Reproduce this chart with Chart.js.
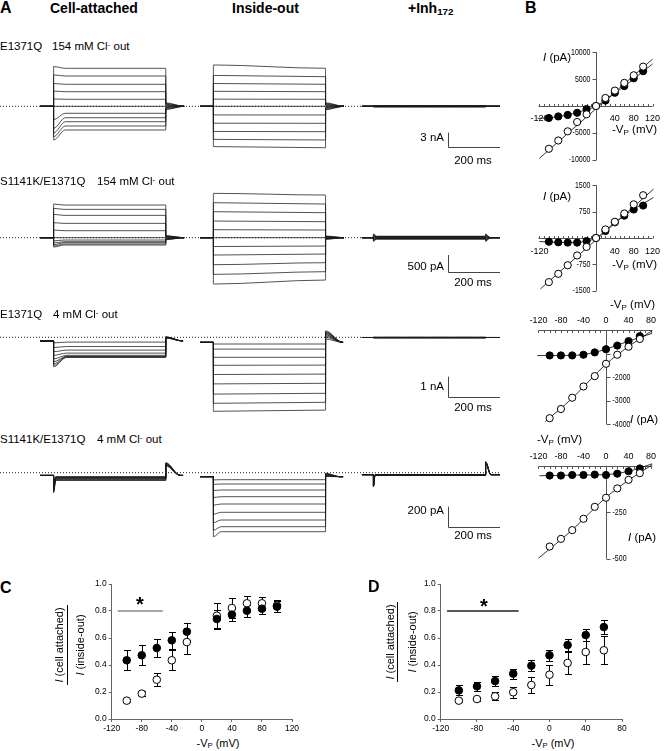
<!DOCTYPE html>
<html>
<head>
<meta charset="utf-8">
<script src="https://cdn.jsdelivr.net/npm/chart.js@4"></script>
<style>
  body { margin: 0; width: 664px; height: 751px; position: relative; background: #fff; overflow: hidden;
         font-family: 'Liberation Sans', Arial, sans-serif; color: #000; }
  canvas { position: absolute; }
  .lbl { position: absolute; white-space: nowrap; line-height: 1; font-size: 11.5px; }
  sub { font-size: 70%; vertical-align: -0.25em; line-height: 0; }
  sup { font-size: 70%; vertical-align: 0.45em; line-height: 0; }
  .bar { position: absolute; background: #000; width: 1px; }
</style>
</head>
<body>
<canvas id="row1" width="500" height="110" style="left:0;top:55px"></canvas>
<canvas id="row2" width="500" height="105" style="left:0;top:185px"></canvas>
<canvas id="row3" width="500" height="100" style="left:0;top:320px"></canvas>
<canvas id="row4" width="500" height="90" style="left:0;top:455px"></canvas>
<canvas id="b1" width="132" height="132" style="left:530px;top:40px"></canvas>
<canvas id="b2" width="132" height="132" style="left:530px;top:172px"></canvas>
<canvas id="b3" width="137" height="140" style="left:525px;top:300px"></canvas>
<canvas id="b4" width="137" height="135" style="left:525px;top:440px"></canvas>
<canvas id="chartC" width="262" height="160" style="left:40px;top:575px"></canvas>
<canvas id="chartD" width="262" height="160" style="left:370px;top:575px"></canvas>
<script>
// ---- A: voltage steps (-Vp, mV) ----
const v154 = [-100, -80, -60, -40, -20, 0, 20, 40, 60, 80, 100];
const v4 = [-100, -80, -60, -40, -20, 0, 20, 40, 60];

// row 1: E1371Q 154 mM Cl- out (pA)
const r1CaPeak = [-6870, -6200, -5450, -4500, -2700, 0, 1500, 3100, 4650, 6400, 8100];
const r1CaEnd = [-4830, -4020, -3140, -2330, -1430, 0, 1430, 2980, 4490, 6180, 7750];
const r1CaTail = [-650, -520, -400, -260, -130, 0, 140, 280, 420, 560, 700];
const r1IoPeak = [-8220, -6750, -5130, -3450, -1760, 0, 1460, 3060, 4650, 6300, 8430];
const r1IoEnd = [-8450, -6870, -5180, -3470, -1770, 0, 1430, 2980, 4490, 6040, 7750];
const r1IoTail = [-700, -560, -420, -280, -140, 0, 140, 280, 420, 560, 700];
const r1InhEnd = [-130, -100, -75, -50, -25, 0, 25, 50, 75, 100, 130];

// row 2: S1141K/E1371Q 154 mM Cl- out
const r2CaPeak = [-280, -250, -210, -160, -95, 0, 230, 450, 700, 880, 1010];
const r2CaEnd = [-220, -190, -150, -120, -70, 0, 210, 430, 670, 850, 980];
const r2CaTail = [-60, -50, -40, -30, -15, 0, 15, 30, 40, 50, 60];
const r2IoPeak = [-1390, -1100, -810, -520, -265, 0, 240, 500, 780, 1050, 1330];
const r2IoEnd = [-1270, -1020, -750, -490, -250, 0, 230, 480, 750, 1010, 1280];
const r2IoTail = [-50, -40, -30, -20, -10, 0, 10, 20, 30, 40, 50];
const r2InhPeak = [-110, -90, -70, -50, -25, 0, 25, 50, 70, 90, 110];
const r2InhEnd = [-45, -36, -27, -18, -9, 0, 9, 18, 27, 36, 45];

// row 3: E1371Q 4 mM Cl- out
const r3CaPeak = [-1470, -1400, -1320, -1220, -1080, -900, -720, -510, -280];
const r3CaEnd = [-1000, -990, -975, -950, -900, -790, -640, -460, -240];
const r3CaTail = [-40, -30, -20, -10, 0, 10, 20, 20, 10];
const r3IoPeak = [-3700, -3300, -2840, -2330, -1860, -1400, -1000, -590, -335];
const r3IoEnd = [-3640, -3250, -2800, -2300, -1840, -1390, -1000, -590, -335];
const r3IoTail = [320, 280, 240, 200, 160, 120, 60, 0, -90];
const r3InhEnd = [-30, -26, -22, -18, -14, -10, -6, -2, 2];

// row 4: S1141K/E1371Q 4 mM Cl- out
const r4CaPeak = [-200, -190, -180, -170, -160, -150, -140, -130, -120];
const r4CaEnd = [-78, -72, -66, -61, -56, -52, -48, -44, -38];
const r4CaTail = [100, 96, 92, 88, 84, 80, 76, 72, 68];
const r4IoPeak = [-640, -575, -500, -415, -325, -248, -178, -116, -72];
const r4IoEnd = [-590, -540, -473, -396, -313, -240, -173, -113, -70];
const r4IoTail = [-5, -10, -14, -18, -22, -26, -30, -34, -38];
const r4InhPeak = [-140, -138, -136, -134, -132, -130, -128, -126, -124];
const r4InhEnd = [-27, -26, -25, -24, -23, -22, -21, -20, -19];
const r4InhTail = [110, 108, 106, 104, 102, 100, 98, 96, 94];

// sweep timing (ms): cell-attached, inside-out, +Inh172
const tStart = [153, 765, 1384];
const tOn = [205, 816, 1428];
const tStop = [700, 1312, 1912];
const tPulse = 429;
const tTotal = 1912;

// ---- B: I-V (pA) ----
const b1Filled = [-2230, -1940, -1660, -1260, -570, 0, 1000, 2460, 3700, 5140, 6460];
const b1Open = [-7940, -6400, -4700, -2970, -1540, 0, 1490, 2860, 4290, 5700, 7310];
const b1FitFilled = [[-124, -2300], [-90, -2100], [-60, -1650], [-30, -950], [0, 0], [50, 3000], [120, 7800]];
const b1FitOpen = [[-120, -9700], [120, 8700]];

const b2Filled = [-105, -122, -131, -131, -87, 0, 200, 445, 637, 811, 924];
const b2Open = [-1256, -1020, -776, -497, -253, 0, 244, 462, 698, 959, 1218];
const b2FitFilled = [[-120, -100], [-80, -125], [-40, -125], [-20, -85], [0, 0], [40, 440], [80, 820], [122, 1150]];
const b2FitOpen = [[-118, -1450], [122, 1390]];

const b3Filled = [-1080, -1080, -1080, -1050, -950, -815, -660, -470, -260];
const b3Open = [-3750, -3360, -2880, -2400, -1960, -1435, -1050, -710, -380];
const b3FitFilled = [[-122, -1085], [-60, -1080], [-30, -1000], [0, -815], [40, -470], [82, -140]];
const b3FitOpen = [[-108, -3900], [-60, -2900], [0, -1450], [40, -700], [82, -20]];

const b4Filled = [-53, -53, -50, -50, -48, -50, -43, -30, -15];
const b4Open = [-434, -393, -346, -285, -221, -172, -122, -76, -40];
const b4FitFilled = [[-118, -54], [-40, -50], [0, -48], [40, -30], [82, 10]];
const b4FitOpen = [[-120, -497], [-60, -345], [0, -170], [40, -78], [82, 5]];

// ---- C / D: I(cell attached) / I(inside-out) ----
const cV = [-100, -80, -60, -40, -20, 20, 40, 60, 80, 100];
const cFilled = [0.435, 0.472, 0.526, 0.583, 0.647, 0.741, 0.773, 0.802, 0.817, 0.832];
const cFilledErr = [0.074, 0.074, 0.07, 0.065, 0.064, 0.065, 0.045, 0.045, 0.04, 0.04];
const cOpen = [0.136, 0.188, 0.291, 0.435, 0.57, 0.765, 0.822, 0.857, 0.857, 0.84];
const cOpenErr = [0.012, 0.02, 0.05, 0.075, 0.09, 0.095, 0.075, 0.055, 0.048, 0.045];
const cSignif = [-112, -52];

const dV = [-100, -80, -60, -40, -20, 0, 20, 40, 60];
const dFilled = [0.212, 0.242, 0.281, 0.336, 0.395, 0.472, 0.548, 0.622, 0.681];
const dFilledErr = [0.037, 0.035, 0.035, 0.037, 0.04, 0.04, 0.045, 0.045, 0.05];
const dOpen = [0.136, 0.148, 0.168, 0.198, 0.252, 0.328, 0.415, 0.496, 0.509];
const dOpenErr = [0.012, 0.018, 0.03, 0.042, 0.06, 0.075, 0.085, 0.085, 0.105];
const dSignif = [-113, -34];

const FONT = "'Liberation Sans', Arial, sans-serif";
Chart.defaults.font.family = FONT;
Chart.defaults.color = '#000';

const pts = (xs, ys) => xs.map((x, i) => ({ x, y: ys[i] }));
const fit = arr => arr.map(p => ({ x: p[0], y: p[1] }));

// ---------- panel A ----------
const scaleBar = {
  id: 'scaleBar',
  afterDatasetsDraw(chart, args, o) {
    const { ctx } = chart, xs = chart.scales.x, ys = chart.scales.y;
    const x0 = Math.round(xs.getPixelForValue(o.t)) + 0.5;
    const y0 = Math.round(ys.getPixelForValue(o.i)) + 0.5;
    ctx.save();
    ctx.strokeStyle = '#444';
    ctx.lineWidth = 1;
    ctx.beginPath();
    ctx.moveTo(x0, ys.getPixelForValue(o.i + o.amp));
    ctx.lineTo(x0, y0);
    ctx.lineTo(xs.getPixelForValue(o.t + o.ms), y0);
    ctx.stroke();
    ctx.restore();
  }
};

function sweep(k, r, j) {
  const on = tOn[k], off = on + tPulse;
  const end = r.end[j];
  const peak = r.peak ? r.peak[j] : end;
  const tail = r.tail ? r.tail[j] : r.hold;
  return [
    { x: tStart[k], y: r.hold }, { x: on, y: r.hold }, { x: on, y: peak },
    { x: on + r.tau, y: end }, { x: off, y: end },
    { x: off, y: tail }, { x: off + r.tailMs, y: r.hold }, { x: tStop[k], y: r.hold }
  ];
}

function traceRow(id, recs, yMin, yMax, bar) {
  const datasets = [{
    data: [{ x: 0, y: 0 }, { x: tTotal, y: 0 }], showLine: true, pointRadius: 0,
    borderColor: '#222', borderWidth: 1, borderDash: [1, 2]
  }];
  recs.forEach((r, k) => {
    r.end.forEach((_, j) => {
      datasets.push({
        data: sweep(k, r, j), showLine: true, pointRadius: 0,
        borderColor: '#1a1a1a', borderWidth: 0.75, cubicInterpolationMode: 'monotone'
      });
    });
  });
  new Chart(document.getElementById(id), {
    type: 'scatter',
    data: { datasets },
    options: {
      responsive: false, animation: false, events: [],
      layout: { padding: 0 },
      scales: {
        x: { type: 'linear', display: false, min: 0, max: tTotal },
        y: { display: false, min: yMin, max: yMax }
      },
      plugins: { legend: { display: false }, tooltip: { enabled: false }, scaleBar: bar }
    },
    plugins: [scaleBar]
  });
}

traceRow('row1', [
  { hold: 0, peak: r1CaPeak, end: r1CaEnd, tail: r1CaTail, tau: 45, tailMs: 70 },
  { hold: 0, peak: r1IoPeak, end: r1IoEnd, tail: r1IoTail, tau: tPulse, tailMs: 70 },
  { hold: 0, end: r1InhEnd, tau: 5, tailMs: 20 }
], -11975, 10465, { t: 1712, i: -8364, amp: 3000, ms: 200 });

traceRow('row2', [
  { hold: 0, peak: r2CaPeak, end: r2CaEnd, tail: r2CaTail, tau: 40, tailMs: 70 },
  { hold: 0, peak: r2IoPeak, end: r2IoEnd, tail: r2IoTail, tau: tPulse, tailMs: 70 },
  { hold: 0, peak: r2InhPeak, end: r2InhEnd, tail: r2InhPeak, tau: 12, tailMs: 18 }
], -1569, 1581, { t: 1712, i: -1020, amp: 500, ms: 200 });

traceRow('row3', [
  { hold: -185, peak: r3CaPeak, end: r3CaEnd, tail: r3CaTail, tau: 50, tailMs: 65 },
  { hold: -250, peak: r3IoPeak, end: r3IoEnd, tail: r3IoTail, tau: tPulse, tailMs: 65 },
  { hold: -10, end: r3InhEnd, tau: 5, tailMs: 20 }
], -4135, 865, { t: 1712, i: -2970, amp: 1000, ms: 200 });

traceRow('row4', [
  { hold: -27, peak: r4CaPeak, end: r4CaEnd, tail: r4CaTail, tau: 8, tailMs: 55 },
  { hold: -40, peak: r4IoPeak, end: r4IoEnd, tail: r4IoTail, tau: 30, tailMs: 55 },
  { hold: -20, peak: r4InhPeak, end: r4InhEnd, tail: r4InhTail, tau: 6, tailMs: 20 }
], -723, 177, { t: 1712, i: -540, amp: 200, ms: 200 });

// ---------- panel B ----------
// axes cross at (0, 0); the y tick labels are narrow, so they are squeezed horizontally
const crossAxes = {
  id: 'crossAxes',
  beforeDatasetsDraw(chart, args, o) {
    const { ctx } = chart, xs = chart.scales.x, ys = chart.scales.y;
    const X = v => xs.getPixelForValue(v), Y = v => ys.getPixelForValue(v);
    const ya = Math.round(Y(0)) + 0.5, xa = Math.round(X(0)) + 0.5;
    ctx.save();
    ctx.strokeStyle = '#555';
    ctx.lineWidth = 1;
    ctx.beginPath();
    ctx.moveTo(X(o.xFrom), ya); ctx.lineTo(X(o.xTo), ya);
    ctx.moveTo(xa, Y(o.yFrom)); ctx.lineTo(xa, Y(o.yTo));
    for (let v = -120; v <= o.xTo; v += 10) {
      if (v === 0) continue;
      const px = Math.round(X(v)) + 0.5;
      ctx.moveTo(px, ya); ctx.lineTo(px, ya + o.xTick);
    }
    o.yTicks.forEach(v => {
      const py = Math.round(Y(v)) + 0.5;
      ctx.moveTo(xa, py); ctx.lineTo(xa + o.yTick, py);
    });
    ctx.stroke();
    ctx.fillStyle = '#000';
    ctx.textBaseline = 'middle';
    ctx.font = '9px ' + FONT;
    ctx.textAlign = 'center';
    o.xLabels.forEach(v => ctx.fillText(String(v), X(v), ya + o.xLabelDy));
    ctx.font = '9px ' + FONT;
    ctx.textAlign = o.yAlign;
    o.yLabels.forEach(v => {
      ctx.save();
      ctx.translate(xa + o.yLabelDx, Y(v));
      ctx.scale(0.78, 1);
      ctx.fillText(String(v), 0, 0);
      ctx.restore();
    });
    ctx.restore();
  }
};

function ivChart(id, v, filled, open, fitFilled, fitOpen, xr, yr, ax) {
  const line = d => ({ data: fit(d), showLine: true, pointRadius: 0, borderColor: '#000', borderWidth: 0.8, cubicInterpolationMode: 'monotone' });
  new Chart(document.getElementById(id), {
    type: 'scatter',
    data: {
      datasets: [
        { data: pts(v, open), pointRadius: 3.6, pointBackgroundColor: '#fff', pointBorderColor: '#000', pointBorderWidth: 1 },
        { data: pts(v, filled), pointRadius: 3.6, pointBackgroundColor: '#000', pointBorderColor: '#000', pointBorderWidth: 1 },
        line(fitOpen),
        line(fitFilled)
      ]
    },
    options: {
      responsive: false, animation: false, events: [],
      layout: { padding: 0 },
      scales: {
        x: { type: 'linear', display: false, min: xr[0], max: xr[1] },
        y: { display: false, min: yr[0], max: yr[1] }
      },
      plugins: { legend: { display: false }, tooltip: { enabled: false }, crossAxes: ax }
    },
    plugins: [crossAxes]
  });
}

ivChart('b1', v154, b1Filled, b1Open, b1FitFilled, b1FitOpen, [-129.4, 129.4], [-11320, 11320], {
  xFrom: -122, xTo: 120, xTick: -2.5, xLabels: [-120, 40, 80, 120], xLabelDy: 12,
  yFrom: -10000, yTo: 10000, yTicks: [-10000, -5000, 5000, 10000], yTick: -4,
  yLabels: [10000, 5000, -5000, -10000], yLabelDx: -6, yAlign: 'right'
});
ivChart('b2', v154, b2Filled, b2Open, b2FitFilled, b2FitOpen, [-129.4, 129.4], [-1737, 1737], {
  xFrom: -122, xTo: 120, xTick: -2.5, xLabels: [-120, 40, 80, 120], xLabelDy: 13,
  yFrom: -1500, yTo: 1500, yTicks: [-1500, -750, 750, 1500], yTick: -4,
  yLabels: [1500, 750, -750, -1500], yLabelDx: -6, yAlign: 'right'
});
ivChart('b3', v4, b3Filled, b3Open, b3FitFilled, b3FitOpen, [-134.9, 90.5], [-4466, 1067], {
  xFrom: -120, xTo: 82, xTick: 2.5, xLabels: [-120, -80, -40, 0, 40, 80], xLabelDy: -9.5,
  yFrom: 0, yTo: -4000, yTicks: [-1000, -2000, -3000, -4000], yTick: 4,
  yLabels: [-2000, -3000, -4000], yLabelDx: 6, yAlign: 'left'
});
ivChart('b4', v4, b4Filled, b4Open, b4FitFilled, b4FitOpen, [-134.9, 90.5], [-560, 111], {
  xFrom: -120, xTo: 82, xTick: 2.5, xLabels: [-120, -80, -40, 0, 40, 80], xLabelDy: -10,
  yFrom: 0, yTo: -500, yTicks: [-250, -500], yTick: 4,
  yLabels: [-250, -500], yLabelDx: 6, yAlign: 'left'
});

// ---------- panels C, D ----------
const errorBars = {
  id: 'errorBars',
  beforeDatasetsDraw(chart) {
    const { ctx } = chart, xs = chart.scales.x, ys = chart.scales.y;
    ctx.save();
    ctx.strokeStyle = '#000';
    ctx.lineWidth = 1;
    chart.data.datasets.forEach(ds => {
      if (!ds.err) return;
      ds.data.forEach((p, j) => {
        const x = Math.round(xs.getPixelForValue(p.x)) + 0.5;
        const yt = Math.round(ys.getPixelForValue(p.y + ds.err[j])) + 0.5;
        const yb = Math.round(ys.getPixelForValue(p.y - ds.err[j])) + 0.5;
        ctx.beginPath();
        ctx.moveTo(x, yt); ctx.lineTo(x, yb);
        ctx.moveTo(x - 3.5, yt); ctx.lineTo(x + 3.5, yt);
        ctx.moveTo(x - 3.5, yb); ctx.lineTo(x + 3.5, yb);
        ctx.stroke();
      });
    });
    ctx.restore();
  }
};

function ratioChart(id, v, filled, filledErr, open, openErr, signif, sigColor, xMax, yAxisW) {
  const axis = {
    grid: { display: true, drawOnChartArea: false, drawTicks: true, tickLength: 3, color: '#666' },
    border: { display: true, color: '#666', width: 1 }
  };
  new Chart(document.getElementById(id), {
    type: 'scatter',
    data: {
      datasets: [
        { data: pts(v, filled), err: filledErr, pointRadius: 3.8, pointBackgroundColor: '#000', pointBorderColor: '#000', pointBorderWidth: 1 },
        { data: pts(v, open), err: openErr, pointRadius: 3.8, pointBackgroundColor: '#fff', pointBorderColor: '#000', pointBorderWidth: 1 },
        { data: signif.map(x => ({ x, y: 0.8 })), showLine: true, pointRadius: 0, borderColor: sigColor, borderWidth: 1.3 }
      ]
    },
    options: {
      responsive: false, animation: false, events: [],
      layout: { padding: { top: 9, right: 10, left: 0, bottom: 0 } },
      scales: {
        x: {
          type: 'linear', min: -120, max: xMax, ...axis,
          afterFit: s => { s.height = 16; },
          ticks: { stepSize: 40, font: { size: 8.5 }, color: '#000', padding: 2, maxRotation: 0, autoSkip: false }
        },
        y: {
          min: 0, max: 1, ...axis,
          afterFit: s => { s.width = yAxisW; },
          ticks: { stepSize: 0.2, font: { size: 8.5 }, color: '#000', padding: 2, callback: val => val.toFixed(1) }
        }
      },
      plugins: { legend: { display: false }, tooltip: { enabled: false } }
    },
    plugins: [errorBars]
  });
}

ratioChart('chartC', cV, cFilled, cFilledErr, cOpen, cOpenErr, cSignif, '#8a8a8a', 120, 71.7);
ratioChart('chartD', dV, dFilled, dFilledErr, dOpen, dOpenErr, dSignif, '#222', 80, 70.7);

// ---------- text ----------
function label(html, x, y, opt = {}) {
  const d = document.createElement('div');
  d.className = 'lbl';
  d.innerHTML = html;
  d.style.left = x + 'px';
  d.style.top = y + 'px';
  const tx = opt.align === 'c' ? '-50%' : opt.align === 'r' ? '-100%' : '0';
  d.style.transform = `translate(${tx}, -50%)` + (opt.rot ? ` rotate(${opt.rot}deg)` : '');
  if (opt.size) d.style.fontSize = opt.size + 'px';
  if (opt.bold) d.style.fontWeight = 'bold';
  document.body.appendChild(d);
}

label('A', 0, 8, { size: 16, bold: true });
label('B', 525, 8, { size: 16, bold: true });
label('C', 0, 588, { size: 16, bold: true });
label('D', 368, 587, { size: 16, bold: true });

label('Cell-attached', 50, 8, { size: 14, bold: true });
label('Inside-out', 232, 8, { size: 14, bold: true });
label('+Inh<sub>172</sub>', 408, 8, { size: 14, bold: true });

const cl = 'mM Cl<sup>-</sup> out';
label('E1371Q', 0, 47);
label('154 ' + cl, 52, 47);
label('S1141K/E1371Q', 0, 182);
label('154 ' + cl, 97, 182);
label('E1371Q', 0, 315);
label('4 ' + cl, 53, 315);
label('S1141K/E1371Q', 0, 440);
label('4 ' + cl, 97, 440);

label('3 nA', 444, 138, { align: 'r' });
label('200 ms', 473, 160.5, { align: 'c' });
label('500 pA', 444, 267, { align: 'r' });
label('200 ms', 473, 282.5, { align: 'c' });
label('1 nA', 444, 387, { align: 'r' });
label('200 ms', 473, 407.5, { align: 'c' });
label('200 pA', 444, 511, { align: 'r' });
label('200 ms', 473, 536, { align: 'c' });

const vp = '-V<sub>P</sub> (mV)';
const ipa = '<i>I</i> (pA)';
label(ipa, 543, 58);
label(vp, 612, 130);
label(ipa, 543, 197);
label(vp, 612, 265);
label(vp, 610, 305);
label(ipa, 630, 420);
label(vp, 537, 440);
label(ipa, 628, 538);

label(vp, 218, 743, { align: 'c', size: 11 });
label(vp, 553, 743, { align: 'c', size: 11 });

label('<i>I</i> (cell attached)', 59, 645, { align: 'c', rot: -90, size: 11 });
label('<i>I</i> (inside-out)', 80, 645, { align: 'c', rot: -90, size: 11 });
label('<i>I</i> (cell attached)', 390, 642, { align: 'c', rot: -90, size: 11 });
label('<i>I</i> (inside-out)', 412, 642, { align: 'c', rot: -90, size: 11 });

function fracBar(x, y0, y1) {
  const b = document.createElement('div');
  b.className = 'bar';
  b.style.left = x + 'px';
  b.style.top = y0 + 'px';
  b.style.height = (y1 - y0) + 'px';
  document.body.appendChild(b);
}
fracBar(67, 605, 685);
fracBar(397, 602, 682);

label('*', 140, 604, { align: 'c', size: 20, bold: true });
label('*', 484, 606, { align: 'c', size: 20, bold: true });
</script>
</body>
</html>
